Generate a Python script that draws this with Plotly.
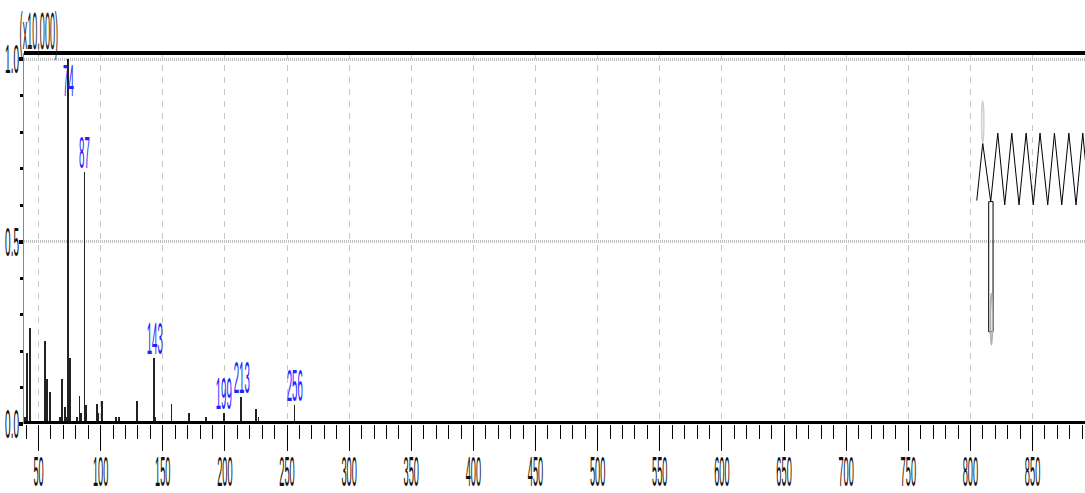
import plotly.graph_objects as go

# ---- data (relative intensity, x10,000) ----
mz = [39, 41, 43, 55, 57, 59, 67, 69, 71, 73, 74, 75, 81, 83, 84, 87, 88, 97, 98,
      101, 112, 115, 129, 143, 144, 157, 171, 185, 199, 213, 225, 227, 256]
intensity = [0.019, 0.195, 0.263, 0.228, 0.123, 0.089, 0.020, 0.123, 0.047, 0.020,
             1.000, 0.181, 0.020, 0.077, 0.030, 0.692, 0.052, 0.055, 0.030, 0.064,
             0.019, 0.019, 0.064, 0.180, 0.020, 0.054, 0.029, 0.019, 0.029, 0.075,
             0.041, 0.019, 0.052]
labeled_mz = [74, 87, 143, 199, 213, 256]

x_ticks = list(range(50, 900, 50))
y_tick_vals = [0.0, 0.5, 1.0]
y_tick_text = ["0.0", "0.5", "1.0"]
scale_text = "(x10,000)"

# stray inset glyph at the right side of the chart
zig_x = [805.1, 809.9, 816.3, 822.0, 827.6, 833.3, 839.1, 844.8, 850.6, 856.0,
         862.2, 867.6, 873.5, 879.2, 885.0, 890.4, 896.0]
zig_y = [0.613, 0.770, 0.610, 0.798, 0.601, 0.798, 0.601, 0.798, 0.601, 0.798,
         0.601, 0.798, 0.601, 0.798, 0.601, 0.798, 0.601]
box_x = [814.7, 818.2]
box_y = [0.253, 0.610]
oval1_x, oval1_y = [809.0, 810.8], [0.771, 0.886]
oval2_x, oval2_y = [816.0, 817.8], [0.217, 0.359]

FONT = "Liberation Sans, Arial, sans-serif"
BLUE = "#2222ff"

fig = go.Figure()
fig.add_trace(go.Bar(x=mz, y=intensity, width=0.7,
                     marker=dict(color="#222222", line=dict(width=0)),
                     hoverinfo="x+y"))
fig.add_trace(go.Scatter(x=zig_x, y=zig_y, mode="lines",
                         line=dict(color="black", width=1), hoverinfo="skip"))

inten = dict(zip(mz, intensity))
for m in labeled_mz:
    v = inten[m]
    fig.add_annotation(x=m, y=min(v, 0.89), xref="x", yref="y", text=str(m),
                       showarrow=False, yanchor="bottom", xanchor="center",
                       yshift=-7, font=dict(family=FONT, size=44, color=BLUE))

fig.add_annotation(x=(39 - 24) / 1061, y=1, xref="paper", yref="paper",
                   text=scale_text, showarrow=False, xanchor="center",
                   yanchor="bottom", yshift=-9,
                   font=dict(family=FONT, size=52, color="#222222"))

# thick frame lines
fig.add_shape(type="line", xref="paper", yref="y", x0=0, x1=1, y0=0, y1=0,
              line=dict(color="black", width=6), layer="above")
fig.add_shape(type="line", xref="paper", yref="paper", x0=0, x1=1, y0=1, y1=1,
              line=dict(color="black", width=4), layer="above")
# inset box and ovals
fig.add_shape(type="rect", xref="x", yref="y", x0=box_x[0], x1=box_x[1],
              y0=box_y[0], y1=box_y[1], line=dict(color="black", width=1))
fig.add_shape(type="circle", xref="x", yref="y", x0=oval1_x[0], x1=oval1_x[1],
              y0=oval1_y[0], y1=oval1_y[1], line=dict(color="#d0d0d0", width=1.5))
fig.add_shape(type="circle", xref="x", yref="y", x0=oval2_x[0], x1=oval2_x[1],
              y0=oval2_y[0], y1=oval2_y[1], line=dict(color="#b0b0b0", width=1.5))

fig.update_layout(
    width=1085, height=493,
    margin=dict(l=24, r=0, t=53, b=69, pad=0),
    paper_bgcolor="white", plot_bgcolor="white",
    showlegend=False, bargap=0,
    font=dict(family=FONT, color="black"),
)
fig.update_xaxes(
    range=[38.3, 892.2], tickmode="array", tickvals=x_ticks,
    ticktext=[str(t) for t in x_ticks], tickangle=0,
    ticks="outside", ticklen=26, tickwidth=1, tickcolor="black",
    tickfont=dict(family=FONT, size=42, color="#111111"),
    ticklabeloverflow="allow", ticklabelstandoff=-15, automargin=False,
    showgrid=True, gridcolor="#c8c8c8", gridwidth=1, griddash="6px,6px",
    showline=False, zeroline=False,
    minor=dict(dtick=10, tick0=0, ticks="outside", ticklen=14, tickwidth=1,
               tickcolor="black", showgrid=False),
)
fig.update_yaxes(
    range=[0, 1.0178], tickmode="array", tickvals=y_tick_vals, ticktext=y_tick_text,
    ticks="outside", ticklen=4, tickwidth=4, tickcolor="black",
    tickfont=dict(family=FONT, size=40, color="#111111"),
    ticklabeloverflow="allow", ticklabelstandoff=-8, automargin=False,
    showgrid=True, gridcolor="#c0c0c0", gridwidth=3, griddash="1px,1px",
    showline=True, linecolor="#888888", linewidth=1, zeroline=False,
    minor=dict(dtick=0.1, tick0=0, ticks="outside", ticklen=3, tickwidth=3,
               tickcolor="black", showgrid=False),
)

post = """
document.body.style.margin = '0';
document.body.style.overflow = 'hidden';
var gd = document.getElementById('{plot_id}');
function sq(sel, s){
  gd.querySelectorAll(sel).forEach(function(t){
    if (t.getAttribute('data-sq')) return;
    var w = t.getComputedTextLength();
    var f = s;
    if (t.textContent === '(x10,000)') f = 0.175;
    if (w > 0) {
      t.setAttribute('textLength', (w*f).toFixed(2));
      t.setAttribute('lengthAdjust', 'spacingAndGlyphs');
      t.setAttribute('data-sq', '1');
    }
  });
}
function run(){
  sq('.xtick text', 0.22);
  sq('.ytick text', 0.25);
  sq('.annotation-text', 0.22);
}
run();
gd.on('plotly_afterplot', run);
"""

fig.write_html("out.html", post_script=post, config={"displayModeBar": False})
